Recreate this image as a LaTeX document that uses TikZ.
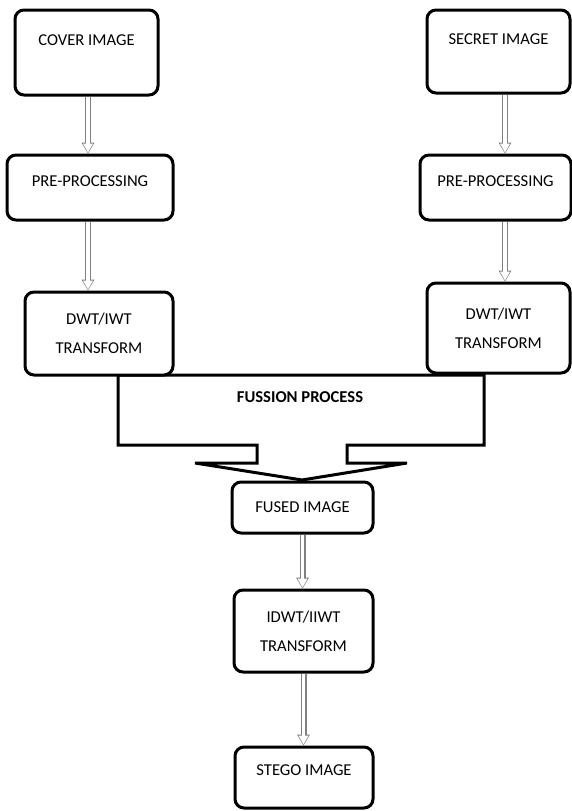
\documentclass[tikz,border=0pt]{standalone}
\usepackage{fontspec}
\setmainfont{Carlito}
\usetikzlibrary{arrows.meta}
\usetikzlibrary{backgrounds}
\pgfdeclarelayer{background}
\pgfsetlayers{background,main}
\tikzset{box/.style={rectangle, draw=black, fill=white, line width=3pt,
rounded corners=9pt, align=center, inner sep=2pt,
font=\fontsize{16.6}{29}\selectfont},
high/.style={text height=12pt, text depth=26.3pt},
mid/.style={text height=12pt, text depth=14.3pt},
low/.style={text height=12pt, text depth=16.3pt},
pipe/.style={draw=black!50, line width=6pt,
-{Triangle[length=11pt, width=13pt, line width=0pt]},
postaction={draw=white, line width=3.8pt, shorten >=1.1pt,
-{Triangle[length=8.8pt, width=10pt, line width=0pt]}}},
fusion/.style={draw=black, fill=white, line width=3pt, line join=miter}}

\begin{document}
\begin{tikzpicture}[x=1pt,y=-1pt]
  \useasboundingbox (0,0) rectangle (572,811);
  % left branch
  \node (cover) [box, high, minimum width=143pt, minimum height=85pt] at (86.5,52.5) {COVER IMAGE};
  \node (pre1) [box, mid, minimum width=166pt, minimum height=65pt] at (90,187.5) {PRE-PROCESSING};
  \node (dwt1) [box, minimum width=148pt, minimum height=83pt] at (99,333.5) {DWT/IWT\\TRANSFORM};
  % right branch
  \node (secret) [box, high, minimum width=143pt, minimum height=83pt] at (498.5,51.5) {SECRET IMAGE};
  \node (pre2) [box, mid, minimum width=151pt, minimum height=65pt] at (495.5,187.5) {PRE-PROCESSING};
  \node (dwt2) [box, minimum width=143pt, minimum height=90pt] at (498.5,328) {DWT/IWT\\TRANSFORM};
  % fusion and output
  \node (fusetext) [font=\fontsize{16.6}{29}\selectfont\bfseries] at (300,397) {FUSSION PROCESS};
  \node (fused) [box, minimum width=141pt, minimum height=51pt] at (302.5,507.5) {FUSED IMAGE};
  \node (idwt) [box, minimum width=139pt, minimum height=82pt] at (303.5,631) {IDWT/IIWT\\TRANSFORM};
  \node (stego) [box, low, minimum width=138pt, minimum height=61pt] at (304,777.5) {STEGO IMAGE};
  \begin{pgfonlayer}{background}
    \draw [fusion] (118,375) -- (484,375) -- (484,445) -- (347,445) -- (347,463)
      -- (407,463) -- (302,480) -- (195,463) -- (257,463) -- (257,445) -- (118,445) -- cycle;
  \end{pgfonlayer}
  \draw [pipe] ([xshift=1.5pt]cover.south) -- ([xshift=1.5pt]cover.south |- pre1.north);
  \draw [pipe] ([xshift=-2pt]pre1.south) -- ([xshift=-2pt]pre1.south |- dwt1.north);
  \draw [pipe] ([xshift=6.5pt]secret.south) -- ([xshift=6.5pt]secret.south |- pre2.north);
  \draw [pipe] ([xshift=9.5pt]pre2.south) -- ([xshift=9.5pt]pre2.south |- dwt2.north);
  \draw [pipe] (fused.south) -- (fused.south |- idwt.north);
  \draw [pipe] (idwt.south) -- (idwt.south |- stego.north);
\end{tikzpicture}
\end{document}
